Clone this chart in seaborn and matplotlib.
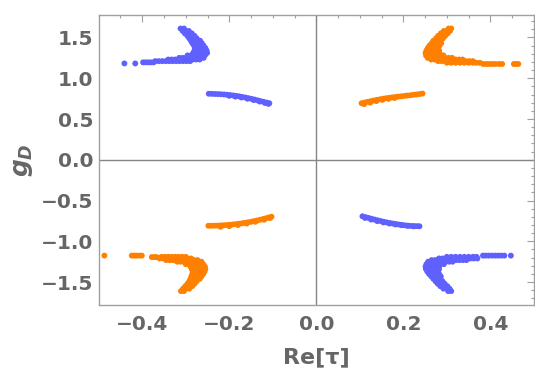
import pandas as pd
import matplotlib
matplotlib.use('Agg')
import matplotlib.pyplot as plt
from matplotlib.ticker import MultipleLocator
import seaborn as sns

# Dados: cada "gancho" em linhas (g_D, [Re tau ...]), cada arco em listas x/y
azul_gancho_se = [
    (1.61, [-0.312, -0.304]),
    (1.58, [-0.307, -0.300, -0.293]),
    (1.55, [-0.302, -0.294, -0.286]),
    (1.52, [-0.296, -0.288, -0.280]),
    (1.49, [-0.292, -0.284, -0.275]),
    (1.46, [-0.288, -0.280, -0.272, -0.267]),
    (1.43, [-0.285, -0.278, -0.270, -0.263]),
    (1.40, [-0.281, -0.274, -0.266, -0.259]),
    (1.37, [-0.279, -0.271, -0.263, -0.255]),
    (1.34, [-0.280, -0.272, -0.264, -0.256, -0.252]),
    (1.31, [-0.283, -0.275, -0.267, -0.259, -0.251]),
    (1.28, [-0.296, -0.288, -0.280, -0.272, -0.264, -0.256]),
    (1.25, [-0.315, -0.307, -0.299, -0.291, -0.283, -0.275, -0.267, -0.259]),
    (1.23, [-0.340, -0.332, -0.324, -0.316, -0.308, -0.300, -0.292, -0.284, -0.276, -0.268]),
    (1.21, [-0.370, -0.362, -0.354, -0.346, -0.338, -0.330, -0.322, -0.314, -0.306, -0.298, -0.290]),
    (1.195, [-0.398, -0.392, -0.386, -0.380, -0.374]),
    (1.182, [-0.416, -0.441]),
]

laranja_gancho_nd = [
    (1.61, [0.304, 0.310]),
    (1.58, [0.293, 0.300, 0.307]),
    (1.55, [0.286, 0.294, 0.302]),
    (1.52, [0.280, 0.288, 0.296]),
    (1.49, [0.275, 0.283, 0.291]),
    (1.46, [0.269, 0.277, 0.285]),
    (1.43, [0.265, 0.272, 0.280, 0.287]),
    (1.40, [0.260, 0.267, 0.275, 0.283]),
    (1.37, [0.256, 0.264, 0.272, 0.280]),
    (1.34, [0.253, 0.260, 0.268, 0.276, 0.282]),
    (1.31, [0.251, 0.259, 0.267, 0.275, 0.283]),
    (1.28, [0.252, 0.260, 0.268, 0.276, 0.284, 0.292]),
    (1.25, [0.256, 0.264, 0.272, 0.280, 0.288, 0.296, 0.304, 0.312]),
    (1.23, [0.264, 0.272, 0.280, 0.288, 0.296, 0.304, 0.312, 0.320, 0.328, 0.336]),
    (1.21, [0.280, 0.288, 0.296, 0.304, 0.312, 0.320, 0.328, 0.336, 0.344, 0.352, 0.360]),
    (1.19, [0.300, 0.310, 0.320, 0.330, 0.340, 0.350, 0.360, 0.368, 0.376]),
    (1.175, [0.384, 0.391, 0.398, 0.405, 0.412, 0.420, 0.427, 0.454, 0.459, 0.464]),
]

laranja_gancho_si = [
    (-1.61, [-0.311, -0.304]),
    (-1.58, [-0.306, -0.299, -0.292]),
    (-1.55, [-0.301, -0.293, -0.285]),
    (-1.52, [-0.296, -0.288, -0.280]),
    (-1.49, [-0.292, -0.284, -0.275]),
    (-1.46, [-0.289, -0.281, -0.273, -0.268]),
    (-1.43, [-0.287, -0.279, -0.271, -0.264]),
    (-1.40, [-0.285, -0.277, -0.269, -0.260]),
    (-1.37, [-0.284, -0.276, -0.267, -0.257]),
    (-1.34, [-0.286, -0.278, -0.269, -0.261, -0.255]),
    (-1.31, [-0.289, -0.281, -0.273, -0.264, -0.256]),
    (-1.28, [-0.300, -0.292, -0.284, -0.276, -0.268, -0.260]),
    (-1.25, [-0.320, -0.312, -0.304, -0.296, -0.288, -0.280, -0.272, -0.264]),
    (-1.23, [-0.345, -0.337, -0.329, -0.321, -0.313, -0.305, -0.297, -0.289, -0.281, -0.273]),
    (-1.21, [-0.360, -0.352, -0.344, -0.336, -0.328, -0.320, -0.312, -0.304, -0.296, -0.288]),
    (-1.19, [-0.356, -0.348, -0.340, -0.332, -0.324, -0.316, -0.308, -0.300]),
    (-1.193, [-0.367, -0.372, -0.378]),
    (-1.175, [-0.401, -0.407, -0.413, -0.418, -0.424, -0.487]),
]

azul_gancho_id = [
    (-1.61, [0.303, 0.310]),
    (-1.58, [0.292, 0.299, 0.306]),
    (-1.55, [0.285, 0.293, 0.301]),
    (-1.52, [0.279, 0.287, 0.295]),
    (-1.49, [0.274, 0.282, 0.290]),
    (-1.46, [0.269, 0.277, 0.285]),
    (-1.43, [0.264, 0.271, 0.279, 0.286]),
    (-1.40, [0.259, 0.266, 0.274, 0.282]),
    (-1.37, [0.255, 0.263, 0.271, 0.280]),
    (-1.34, [0.252, 0.259, 0.267, 0.275, 0.282]),
    (-1.31, [0.251, 0.258, 0.266, 0.274, 0.282]),
    (-1.28, [0.253, 0.261, 0.269, 0.277, 0.285, 0.293]),
    (-1.25, [0.257, 0.265, 0.273, 0.281, 0.289, 0.297, 0.305, 0.313]),
    (-1.23, [0.265, 0.273, 0.281, 0.289, 0.297, 0.305, 0.313, 0.321, 0.329, 0.337, 0.345]),
    (-1.21, [0.282, 0.290, 0.298, 0.306, 0.314, 0.322, 0.330, 0.338, 0.346, 0.354, 0.362, 0.370]),
    (-1.19, [0.300, 0.310, 0.320, 0.330, 0.340, 0.350, 0.360, 0.368]),
    (-1.175, [0.383, 0.389, 0.396, 0.404, 0.411, 0.418, 0.425, 0.432, 0.447]),
]

azul_arco_x = [-0.247, -0.240, -0.233, -0.226, -0.219, -0.212, -0.205, -0.198, -0.191, -0.184,
               -0.177, -0.170, -0.163, -0.156, -0.149, -0.142, -0.135, -0.128, -0.121, -0.114, -0.108,
               -0.200, -0.186, -0.172, -0.158, -0.144, -0.130, -0.118, -0.110]
azul_arco_y = [0.810, 0.809, 0.807, 0.806, 0.804, 0.801, 0.798, 0.794, 0.789, 0.784,
               0.778, 0.771, 0.764, 0.756, 0.748, 0.739, 0.730, 0.720, 0.711, 0.702, 0.694,
               0.785, 0.775, 0.764, 0.749, 0.733, 0.714, 0.697, 0.686]

laranja_arco_x = [0.104, 0.111, 0.118, 0.125, 0.132, 0.139, 0.146, 0.153, 0.160, 0.167, 0.174,
                  0.181, 0.188, 0.195, 0.202, 0.209, 0.216, 0.223, 0.230, 0.237, 0.244,
                  0.110, 0.124, 0.138, 0.152, 0.166, 0.180]
laranja_arco_y = [0.694, 0.703, 0.711, 0.719, 0.727, 0.735, 0.742, 0.749, 0.755, 0.760, 0.765,
                  0.770, 0.775, 0.779, 0.783, 0.788, 0.792, 0.797, 0.801, 0.806, 0.812,
                  0.683, 0.702, 0.720, 0.735, 0.748, 0.758]

laranja_arco2_x = [-0.248, -0.241, -0.234, -0.227, -0.220, -0.213, -0.206, -0.199, -0.192, -0.185,
                   -0.178, -0.171, -0.164, -0.157, -0.150, -0.143, -0.136, -0.129, -0.122, -0.115,
                   -0.109, -0.103, -0.220, -0.200, -0.180, -0.160, -0.140, -0.120, -0.106]
laranja_arco2_y = [-0.809, -0.809, -0.808, -0.807, -0.805, -0.803, -0.800, -0.797, -0.793, -0.789,
                   -0.784, -0.779, -0.773, -0.767, -0.760, -0.752, -0.744, -0.735, -0.726, -0.716,
                   -0.707, -0.698, -0.822, -0.814, -0.800, -0.782, -0.760, -0.735, -0.714]

azul_arco2_x = [0.106, 0.113, 0.120, 0.127, 0.134, 0.141, 0.148, 0.155, 0.162, 0.169, 0.176,
                0.183, 0.190, 0.197, 0.204, 0.211, 0.218, 0.225, 0.232, 0.237,
                0.112, 0.126, 0.140, 0.154, 0.168, 0.182, 0.196, 0.210, 0.224]
azul_arco2_y = [-0.693, -0.703, -0.713, -0.723, -0.733, -0.742, -0.751, -0.760, -0.768, -0.775,
                -0.782, -0.788, -0.794, -0.799, -0.804, -0.808, -0.811, -0.813, -0.814, -0.815,
                -0.713, -0.733, -0.752, -0.768, -0.782, -0.793, -0.802, -0.810, -0.816]

cores = {'azul': '#6060ff', 'laranja': '#ff8000'}


def montar_tabela():
    linhas = []
    for grupo, ganchos in [('azul', azul_gancho_se), ('azul', azul_gancho_id),
                           ('laranja', laranja_gancho_nd), ('laranja', laranja_gancho_si)]:
        for g, xs in ganchos:
            for x in xs:
                linhas.append({'re_tau': x, 'g_d': g, 'grupo': grupo})
    for grupo, xs, ys in [('azul', azul_arco_x, azul_arco_y), ('azul', azul_arco2_x, azul_arco2_y),
                          ('laranja', laranja_arco_x, laranja_arco_y),
                          ('laranja', laranja_arco2_x, laranja_arco2_y)]:
        for x, y in zip(xs, ys):
            linhas.append({'re_tau': x, 'g_d': y, 'grupo': grupo})
    return pd.DataFrame(linhas)


sns.set_style('white')
plt.rcParams['font.family'] = ['DejaVu Sans']
plt.rcParams['mathtext.fontset'] = 'custom'
plt.rcParams['mathtext.it'] = 'DejaVu Sans:italic:bold'
plt.rcParams['mathtext.rm'] = 'DejaVu Sans:bold'

dados = montar_tabela()

fig = plt.figure(figsize=(5.35, 3.76), dpi=100)
ax = fig.add_axes([0.1845, 0.189, 0.8135, 0.772])

cinza = '#a0a0a0'
ax.axhline(0, color='#858585', lw=1, zorder=1)
ax.axvline(0, color='#858585', lw=1, zorder=1)

sns.scatterplot(data=dados, x='re_tau', y='g_d', hue='grupo', palette=cores,
                s=18, linewidth=0, alpha=1, legend=False, ax=ax, zorder=3)

ax.set_xlim(-0.5, 0.5)
ax.set_ylim(-1.78, 1.78)
ax.xaxis.set_major_locator(MultipleLocator(0.2))
ax.xaxis.set_minor_locator(MultipleLocator(0.05))
ax.yaxis.set_major_locator(MultipleLocator(0.5))
ax.yaxis.set_minor_locator(MultipleLocator(0.1))
ax.xaxis.set_major_formatter(plt.FuncFormatter(lambda v, p: f'{v:.1f}'.replace('-', '\u2212')))
ax.yaxis.set_major_formatter(plt.FuncFormatter(lambda v, p: f'{v:.1f}'.replace('-', '\u2212')))

for lado in ax.spines.values():
    lado.set_color(cinza)
    lado.set_linewidth(1)

ax.tick_params(which='both', direction='in', top=True, right=True, color=cinza, width=0.8)
ax.tick_params(which='major', length=5, labelsize=14.5, labelcolor='#666666')
ax.tick_params(axis='x', which='major', pad=7)
ax.tick_params(axis='y', which='major', pad=4)
ax.tick_params(which='minor', length=2.5)
for rotulo in ax.get_xticklabels() + ax.get_yticklabels():
    rotulo.set_fontweight('bold')

ax.set_xlabel('Re[τ]', fontsize=16, fontweight='bold', color='#666666', labelpad=10)
ax.set_ylabel('$g_D$', fontsize=18, color='#666666', labelpad=4)

fig.savefig('out.png', dpi=100)
